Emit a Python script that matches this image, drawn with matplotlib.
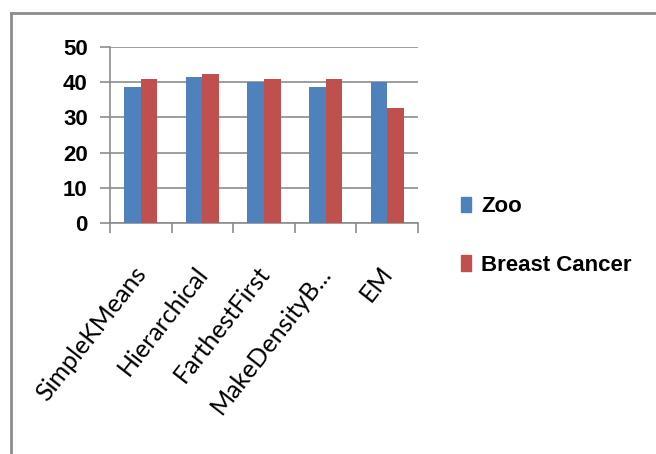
import matplotlib.pyplot as plt
import numpy as np
from matplotlib.lines import Line2D
from matplotlib.transforms import ScaledTranslation

methods = ['SimpleKMeans', 'Hierarchical', 'FarthestFirst', 'MakeDensityB...', 'EM']
zoo = [38.6, 41.6, 40.0, 38.6, 40.0]
breast_cancer = [41.0, 42.3, 41.0, 41.0, 32.8]
yticks = [0, 10, 20, 30, 40, 50]

blue = '#4F81BD'
red = '#C0504D'
grey = '#8C8C8C'

fig = plt.figure(figsize=(6.56, 4.54), dpi=100)
ax = fig.add_axes([110/656, 1 - 223/454, 308/656, 176/454])

x = np.arange(len(methods))
w = 0.27
ax.bar(x - w/2, zoo, w, color=blue, label='Zoo', zorder=3)
ax.bar(x + w/2, breast_cancer, w, color=red, label='Breast Cancer', zorder=3)

ax.set_xlim(-0.5, len(methods) - 0.5)
ax.set_ylim(0, 50)
ax.set_yticks(yticks)
ax.yaxis.grid(True, color=grey, linewidth=1.2, zorder=0)

for s in ['top', 'right']:
    ax.spines[s].set_visible(False)
for s in ['left', 'bottom']:
    ax.spines[s].set_color(grey)
    ax.spines[s].set_linewidth(1.2)

ax.tick_params(axis='y', length=7, width=1.2, color=grey, pad=9)
for t in ax.get_yticklabels():
    t.set_fontfamily('Liberation Sans')
    t.set_fontweight('bold')
    t.set_fontsize(16)

# group labels sit at the centres, tick marks between groups
ax.set_xticks(x)
ax.set_xticklabels(methods, rotation=52, ha='right', rotation_mode='anchor',
                   fontfamily='Lato', fontsize=18)
ax.tick_params(axis='x', which='major', length=0, pad=28)
shift = ScaledTranslation(-8/100, 0, fig.dpi_scale_trans)
for t in ax.get_xticklabels():
    t.set_transform(t.get_transform() + shift)
ax.set_xticks(np.arange(-0.5, len(methods)), minor=True)
ax.tick_params(axis='x', which='minor', length=7, width=1.2, color=grey)

handles = [plt.Rectangle((0, 0), 1, 1, color=blue),
           plt.Rectangle((0, 0), 1, 1, color=red)]
fig.legend(handles, ['Zoo', 'Breast Cancer'], loc='center left',
           bbox_to_anchor=(441/656, 1 - 236/454), frameon=False,
           prop={'family': 'Liberation Sans', 'weight': 'bold', 'size': 16},
           handlelength=0.45, handleheight=0.7, handletextpad=0.45,
           labelspacing=1.7)

# outer frame on the left and top
fig.add_artist(Line2D([11/656, 11/656], [0, 1 - 13/454], color=grey, lw=2))
fig.add_artist(Line2D([11/656, 1], [1 - 13/454, 1 - 13/454], color=grey, lw=2))

fig.savefig('out.png', dpi=100)
